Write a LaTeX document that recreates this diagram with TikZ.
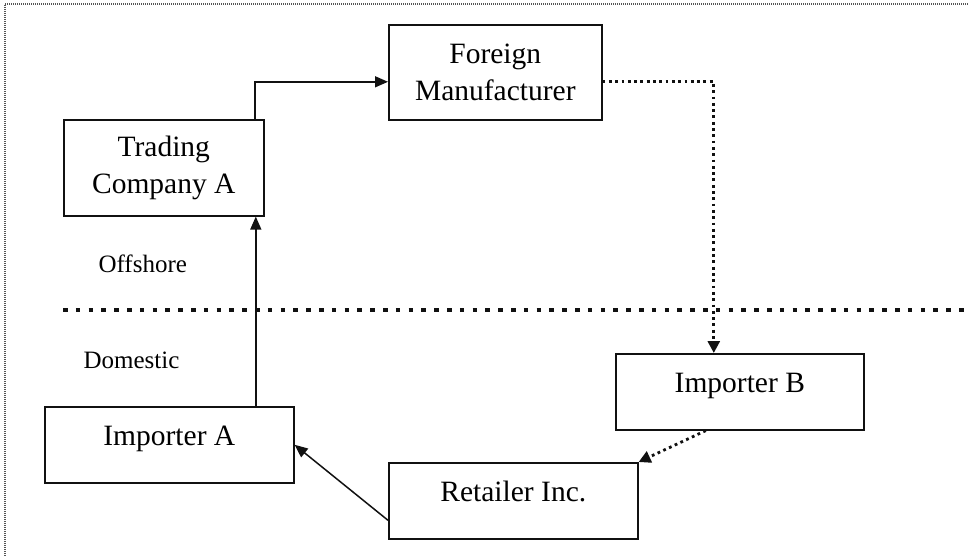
\documentclass[tikz,border=0pt]{standalone}
\usepackage{fontspec}
\setmainfont{Liberation Serif}
\usepackage{tikz}
\usetikzlibrary{arrows.meta,positioning}
\usepackage{xcolor}
\definecolor{Ink}{HTML}{111111}
\definecolor{Frame}{HTML}{555555}

\begin{document}
\begin{tikzpicture}[
  x=1pt, y=-1pt,
  bbox/.style={draw=Ink, line width=1.6pt, inner sep=0pt, anchor=north west,
               minimum width=249pt, text height=39pt, text depth=37pt,
               font=\fontsize{29.5}{37.5}\selectfont},
  tbox/.style={draw=Ink, line width=1.6pt, inner sep=0pt, anchor=north west,
               align=center, font=\fontsize{29.5}{37.5}\selectfont},
  zone/.style={anchor=base west, font=\fontsize{25}{30}\selectfont},
  conn/.style={draw=Ink, line width=1.5pt, -{Triangle[length=13pt,width=11pt]}},
  dotconn/.style={draw=Ink, line width=2.8pt, dash pattern=on 2.8pt off 3.5pt,
                  -{Triangle[length=12pt,width=12pt]}}
]
  \useasboundingbox (0,0) rectangle (969,556);
  % frame and border line
  \draw[Frame, line width=1.2pt, dash pattern=on 1pt off 1pt] (5,556) -- (5,4) -- (969,4);
  \draw[Ink, line width=4.5pt, dash pattern=on 4.5pt off 8.3pt] (63,310) -- (969,310);

  \node[zone] (off) at (95,272) {Offshore};
  \node[zone] (dom) at (80,368) {Domestic};

  \node[tbox, minimum width=200pt, minimum height=96pt] (trading) at (63,119) {Trading\\Company A};
  \node[tbox, minimum width=213pt, minimum height=95pt] (foreign) at (388,24) {Foreign\\Manufacturer};
  \node[bbox] (impA)   at (44,406)  {Importer A};
  \node[bbox] (retail) at (388,462) {Retailer Inc.};
  \node[bbox, minimum width=248pt] (impB) at (615,353) {Importer B};

  \draw[conn] ([xshift=91pt]trading.north) |- ([yshift=-9.5pt]foreign.west);
  \draw[conn] ([xshift=86.5pt]impA.north) -- ([xshift=86.5pt]impA.north |- trading.south);
  \draw[conn] ([yshift=-19.5pt]retail.west) -- (impA.east);
  \draw[dotconn] ([yshift=-9.5pt]foreign.east) -| ([xshift=-26pt]impB.north);
  \draw[dotconn] ([xshift=-34pt]impB.south) -- (retail.north east);
\end{tikzpicture}
\end{document}
